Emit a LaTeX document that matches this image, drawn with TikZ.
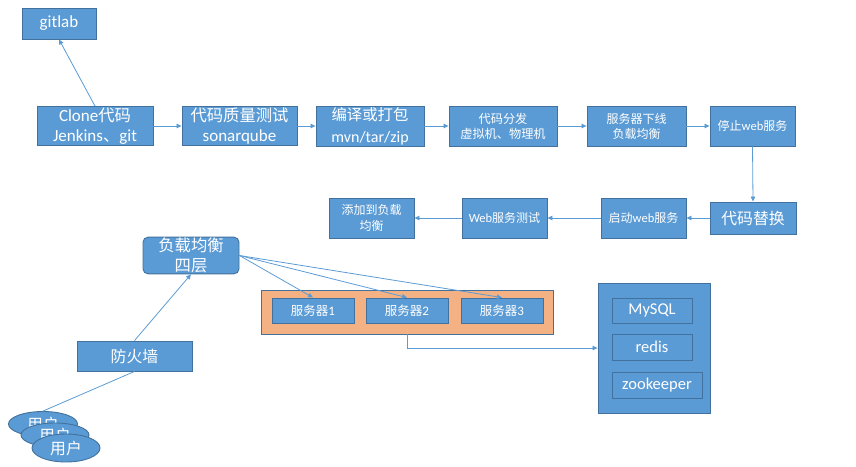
\documentclass[tikz,border=0pt]{standalone}
\usepackage{fontspec}
\setmainfont{Carlito}
\newfontfamily\cjk[Scale=0.96]{Noto Sans CJK SC}
\usetikzlibrary{arrows.meta,shapes.geometric}
\definecolor{boxFill}{HTML}{5B9BD5}
\definecolor{boxLine}{HTML}{41719C}
\definecolor{poolFill}{HTML}{F4B183}
\tikzset{
  blk/.style={draw=boxLine, fill=boxFill, text=white, line width=0.9pt, align=center,
    inner sep=1pt},
  fs/.style 2 args={font=\fontsize{#1}{#2}\selectfont},
  cj/.style 2 args={font=\fontsize{#1}{#2}\selectfont\cjk},
  usr/.style={blk, ellipse, inner sep=0pt},
}
\begin{document}
\begin{tikzpicture}[x=1pt, y=-1pt,
  lnk/.style={draw=boxFill, line width=0.8pt},
  >={Triangle[length=5pt, width=4.5pt]}]
\useasboundingbox (0,0) rectangle (856,466);
% top row
\node[blk, fs={17}{20}, minimum width=74pt, minimum height=31pt] (gitlab) at (59,23.5) {gitlab};
\node[blk, fs={17}{20}, minimum width=116pt, minimum height=39pt] (clone) at (95,126) {Clone{\cjk 代码}\\Jenkins{\cjk 、}git};
\node[blk, fs={17}{20}, minimum width=115pt, minimum height=39pt] (quality) at (239.5,126) {{\cjk 代码质量测试}\\sonarqube};
\node[blk, fs={16}{22}, minimum width=108pt, minimum height=40pt] (build) at (370,126) {{\cjk 编译或打包}\\mvn/tar/zip};
\node[blk, cj={12.7}{15}, minimum width=108pt, minimum height=40pt] (dist) at (503,126) {代码分发\\虚拟机、物理机};
\node[blk, cj={12.5}{15}, minimum width=99pt, minimum height=40pt] (offline) at (636.5,126) {服务器下线\\负载均衡};
\node[blk, fs={12.5}{15}, minimum width=85pt, minimum height=40pt] (stop) at (752.5,126) {{\cjk 停止}web{\cjk 服务}};
% second row
\node[blk, cj={16.5}{20}, minimum width=86pt, minimum height=32pt] (replace) at (753,218) {代码替换};
\node[blk, fs={12.5}{15}, minimum width=85pt, minimum height=40pt] (start) at (643.5,218) {{\cjk 启动}web{\cjk 服务}};
\node[blk, fs={12.5}{15}, minimum width=85pt, minimum height=40pt] (webtest) at (504.5,218) {Web{\cjk 服务测试}};
\node[blk, cj={12.5}{16}, minimum width=85pt, minimum height=40pt] (addlb) at (371.5,218) {添加到负载\\均衡};
\foreach \a/\b in {clone/quality, quality/build, build/dist, dist/offline, offline/stop,
  replace/start, start/webtest, webtest/addlb}
  \draw[lnk, ->] (\a) -- (\b);
\draw[lnk, ->] (stop.south) -- (replace.north);
\draw[lnk, ->] (clone.north) -- (gitlab.south);
% access side
\node[blk, cj={17}{19.5}, rounded corners=5pt, minimum width=96pt, minimum height=35pt] (lb) at (191,255.5) {负载均衡\\四层};
\node[blk, cj={16.5}{20}, minimum width=115pt, minimum height=30pt] (fw) at (134.5,356) {防火墙};
\node[usr, cj={16.5}{18}, minimum width=69pt, minimum height=25pt] (usr1) at (43,424) {用户};
\node[usr, cj={16.5}{18}, minimum width=68pt, minimum height=24pt] (usr2) at (55,435) {用户};
\node[usr, cj={16.5}{18}, minimum width=68pt, minimum height=28pt] (usr3) at (66,448) {用户};
\draw[lnk] (usr1.north) -- (fw.south);
\draw[lnk, ->] (fw.north) -- (lb.south);
% servers
\node[draw=boxLine, fill=poolFill, line width=0.9pt, minimum width=292pt, minimum height=44pt] (pool) at (407,312) {};
\foreach \i/\x in {1/313, 2/407, 3/502}{
  \node[blk, fs={13}{15}, minimum width=82pt, minimum height=25pt] (srv\i) at (\x,310.5) {{\cjk 服务器}\i};
  \draw[lnk, ->] (lb.east) -- (srv\i.north);
}
% data services
\node[blk, minimum width=112pt, minimum height=130pt] (db) at (654,348) {};
\node[blk, fs={16.5}{18}, minimum width=80pt, minimum height=25pt] (mysql) at (652,310.5) {MySQL};
\node[blk, fs={16.5}{18}, minimum width=80pt, minimum height=26pt] (redis) at (652,347) {redis};
\node[blk, fs={16.5}{18}, minimum width=90pt, minimum height=26pt] (zk) at (657,385) {zookeeper};
\draw[lnk, ->] (pool.south) |- (db.west);
\end{tikzpicture}
\end{document}
